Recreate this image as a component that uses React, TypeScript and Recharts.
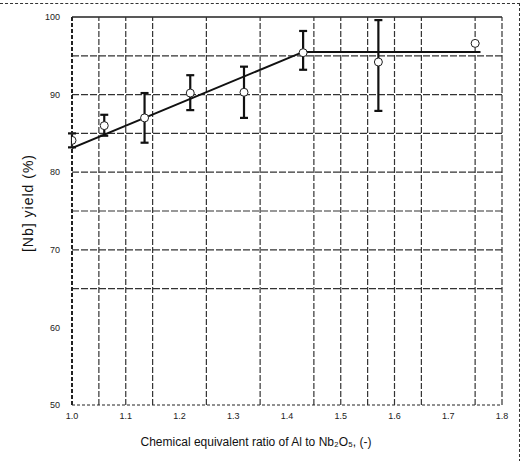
import React from 'react';
import {
  ComposedChart,
  Scatter,
  Line,
  XAxis,
  YAxis,
  ErrorBar,
  ReferenceLine,
  Label,
} from 'recharts';

// measured points (ratio of Al to Nb2O5 vs Nb yield)
const ratio = [1.0, 1.06, 1.135, 1.22, 1.32, 1.43, 1.57, 1.75];
const yieldPct = [84.1, 86.0, 87.0, 90.2, 90.3, 95.4, 94.2, 96.6];
const errLow = [0.9, 1.3, 3.2, 2.2, 3.3, 2.2, 6.3, 0];
const errHigh = [0.9, 1.4, 3.2, 2.3, 3.3, 2.8, 5.4, 0];

// fitted trend line
const fitRatio = [1.0, 1.43, 1.76];
const fitYield = [83.1, 95.5, 95.5];

const xTicks = [1.0, 1.1, 1.2, 1.3, 1.4, 1.5, 1.6, 1.7, 1.8];
const yTicks = [50, 60, 70, 80, 90, 100];
const hGrid = [95, 90, 85, 80, 75, 70, 65];
const vGrid = [1.05, 1.1, 1.15, 1.25, 1.35, 1.45, 1.5, 1.55, 1.6, 1.65, 1.75, 1.8];

const points = ratio.map((x, i) => ({
  x,
  y: yieldPct[i],
  err: [errLow[i], errHigh[i]],
}));
const fit = fitRatio.map((x, i) => ({ x, y: fitYield[i] }));

const FONT = '"Liberation Sans", Arial, sans-serif';

export default function App() {
  return (
    <div
      style={{
        position: 'absolute',
        left: 0,
        top: 0,
        width: 529,
        height: 461,
        background: '#fff',
        fontFamily: FONT,
      }}
    >
      <div
        style={{
          position: 'absolute',
          left: 0,
          top: 3,
          width: 519,
          height: 458,
          borderTop: '1px dashed #333',
          borderRight: '1px dashed #333',
        }}
      />
      <ComposedChart
        width={529}
        height={461}
        data={points}
        margin={{ top: 17, right: 27, bottom: 0, left: 0 }}
      >
        <XAxis
          dataKey="x"
          type="number"
          domain={[1.0, 1.8]}
          ticks={xTicks}
          tickFormatter={(v: number) => v.toFixed(1)}
          tick={{ fill: '#222', fontSize: 9, fontFamily: FONT }}
          tickLine={false}
          tickSize={0}
          tickMargin={8}
          axisLine={{ stroke: '#222', strokeDasharray: '3 2' }}
          height={56}
          allowDataOverflow
        >
          <Label
            value="Chemical equivalent ratio of Al to Nb₂O₅, (-)"
            position="insideBottom"
            offset={15}
            dx={-31}
            style={{ fill: '#111', fontSize: 12, fontFamily: FONT }}
          />
        </XAxis>
        <YAxis
          type="number"
          domain={[50, 100]}
          ticks={yTicks}
          tick={{ fill: '#222', fontSize: 9, fontFamily: FONT }}
          tickLine={false}
          tickSize={0}
          tickMargin={12}
          axisLine={{ stroke: '#222', strokeWidth: 2, strokeDasharray: '4 2' }}
          width={72}
          allowDataOverflow
        >
          <Label
            value="[Nb] yield (%)"
            angle={-90}
            position="insideLeft"
            offset={28}
            dy={-8}
            style={{ textAnchor: 'middle', fill: '#111', fontSize: 14, letterSpacing: 1, fontFamily: FONT }}
          />
        </YAxis>

        <ReferenceLine y={100} stroke="#222" strokeWidth={1.5} />
        {hGrid.map((v) => (
          <ReferenceLine key={'h' + v} y={v} stroke="#333" strokeWidth={1.2} strokeDasharray="7 2" />
        ))}
        {vGrid.map((v) => (
          <ReferenceLine key={'v' + v} x={v} stroke="#333" strokeWidth={1.2} strokeDasharray="6 2" />
        ))}

        <Line
          data={fit}
          dataKey="y"
          type="linear"
          stroke="#111"
          strokeWidth={2}
          dot={false}
          activeDot={false}
          isAnimationActive={false}
        />
        <Scatter
          dataKey="y"
          fill="#fff"
          stroke="#111"
          strokeWidth={1}
          shape={(p: any) => <circle cx={p.cx} cy={p.cy} r={4} fill="#fff" stroke="#222" strokeWidth={1} />}
          isAnimationActive={false}
        >
          <ErrorBar dataKey="err" direction="y" width={4} stroke="#111" strokeWidth={2.2} />
        </Scatter>
      </ComposedChart>
    </div>
  );
}
